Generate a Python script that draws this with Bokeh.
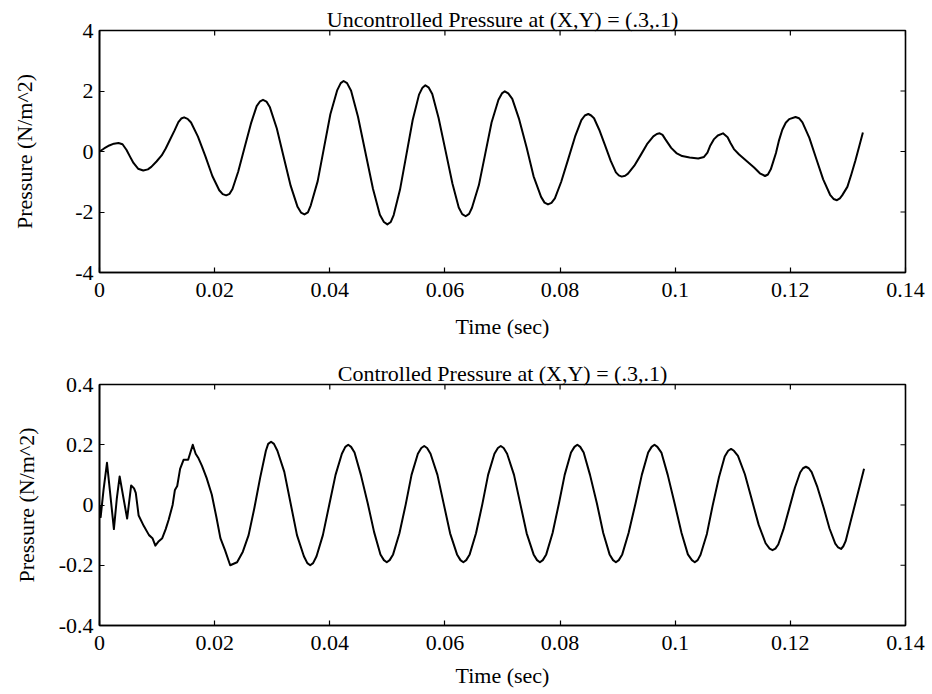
import math
from bokeh.plotting import figure
from bokeh.layouts import column
from bokeh.models import Range1d, FixedTicker
from bokeh.embed import file_html
from bokeh.resources import INLINE

FONT = "Liberation Serif"

# ---------------- data ----------------
x_ticks = [0, 0.02, 0.04, 0.06, 0.08, 0.1, 0.12, 0.14]
x_tick_labels = ["0", "0.02", "0.04", "0.06", "0.08", "0.1", "0.12", "0.14"]

top_y_ticks = [-4, -2, 0, 2, 4]
top_y_tick_labels = ["-4", "-2", "0", "2", "4"]
bot_y_ticks = [-0.4, -0.2, 0, 0.2, 0.4]
bot_y_tick_labels = ["-0.4", "-0.2", "0", "0.2", "0.4"]

top_title = "Uncontrolled Pressure at (X,Y) = (.3,.1)"
bot_title = "Controlled Pressure at (X,Y) = (.3,.1)"
x_label = "Time (sec)"
y_label = "Pressure (N/m^2)"

top_time = [
    0.0000, 0.0008, 0.0017, 0.0025, 0.0033, 0.0040, 0.0047, 0.0053, 0.0059, 0.0067,
    0.0076, 0.0084, 0.0090, 0.0099, 0.0108, 0.0115, 0.0122, 0.0130, 0.0137, 0.0142,
    0.0147, 0.0153, 0.0159, 0.0171, 0.0184, 0.0196, 0.0208, 0.0214, 0.0220, 0.0226,
    0.0231, 0.0241, 0.0252, 0.0263, 0.0273, 0.0279, 0.0284, 0.0290, 0.0296, 0.0308,
    0.0320, 0.0332, 0.0344, 0.0350, 0.0356, 0.0362, 0.0367, 0.0379, 0.0390, 0.0401,
    0.0413, 0.0419, 0.0424, 0.0430, 0.0437, 0.0449, 0.0462, 0.0475, 0.0487, 0.0494,
    0.0500, 0.0506, 0.0511, 0.0522, 0.0533, 0.0544, 0.0555, 0.0561, 0.0566, 0.0572,
    0.0578, 0.0589, 0.0601, 0.0613, 0.0624, 0.0630, 0.0636, 0.0642, 0.0647, 0.0659,
    0.0670, 0.0681, 0.0693, 0.0699, 0.0704, 0.0710, 0.0717, 0.0729, 0.0742, 0.0754,
    0.0767, 0.0773, 0.0779, 0.0785, 0.0791, 0.0802, 0.0814, 0.0826, 0.0837, 0.0843,
    0.0849, 0.0854, 0.0859, 0.0868, 0.0878, 0.0888, 0.0897, 0.0902, 0.0907, 0.0913,
    0.0918, 0.0929, 0.0940, 0.0951, 0.0962, 0.0968, 0.0973, 0.0978, 0.0983, 0.0993,
    0.1002, 0.1012, 0.1025, 0.1040, 0.1050, 0.1056, 0.1061, 0.1067, 0.1074, 0.1083,
    0.1091, 0.1096, 0.1102, 0.1111, 0.1120, 0.1129, 0.1137, 0.1147, 0.1156, 0.1161,
    0.1166, 0.1170, 0.1175, 0.1180, 0.1186, 0.1192, 0.1198, 0.1209, 0.1215, 0.1221,
    0.1233, 0.1245, 0.1257, 0.1269, 0.1275, 0.1281, 0.1286, 0.1290, 0.1299, 0.1306,
    0.1313, 0.1320, 0.1326,
]
top_pressure = [
    0.00, 0.10, 0.20, 0.26, 0.28, 0.24, 0.05, -0.17, -0.38, -0.57,
    -0.63, -0.59, -0.51, -0.33, -0.13, 0.10, 0.37, 0.68, 0.97, 1.09,
    1.13, 1.08, 0.96, 0.49, -0.16, -0.81, -1.28, -1.41, -1.45, -1.40,
    -1.24, -0.66, 0.13, 0.92, 1.50, 1.66, 1.71, 1.65, 1.46, 0.76,
    -0.19, -1.13, -1.83, -2.02, -2.08, -2.01, -1.78, -0.98, 0.13, 1.23,
    2.03, 2.26, 2.33, 2.26, 2.01, 1.15, -0.04, -1.23, -2.09, -2.33,
    -2.41, -2.33, -2.10, -1.26, -0.11, 1.04, 1.88, 2.11, 2.19, 2.11,
    1.90, 1.11, 0.03, -1.06, -1.85, -2.07, -2.14, -2.06, -1.86, -1.11,
    -0.08, 0.96, 1.71, 1.92, 1.99, 1.92, 1.74, 1.06, 0.12, -0.82,
    -1.50, -1.69, -1.75, -1.70, -1.55, -1.00, -0.26, 0.49, 1.04, 1.19,
    1.24, 1.19, 1.10, 0.72, 0.21, -0.31, -0.69, -0.79, -0.83, -0.80,
    -0.73, -0.47, -0.12, 0.24, 0.50, 0.58, 0.60, 0.55, 0.40, 0.12,
    -0.05, -0.15, -0.20, -0.23, -0.18, -0.04, 0.20, 0.40, 0.53, 0.60,
    0.47, 0.28, 0.08, -0.10, -0.25, -0.40, -0.53, -0.72, -0.81, -0.76,
    -0.59, -0.35, -0.05, 0.35, 0.72, 0.95, 1.07, 1.14, 1.10, 0.96,
    0.45, -0.24, -0.92, -1.43, -1.57, -1.61, -1.55, -1.45, -1.17, -0.75,
    -0.30, 0.20, 0.63,
]

bot_time = [
    0.0000, 0.0002, 0.0007, 0.0013, 0.0019, 0.0025, 0.0030, 0.0035,
    0.0041, 0.0048, 0.0055, 0.0060, 0.0063, 0.0068, 0.0077, 0.0086,
    0.0092, 0.0097, 0.0103, 0.0109, 0.0115, 0.0120, 0.0127, 0.0131,
    0.0135, 0.0140, 0.0146, 0.0154, 0.0162, 0.0167, 0.0172, 0.0178,
    0.0186, 0.0195, 0.0203, 0.0210, 0.0218, 0.0227, 0.0239, 0.0249,
    0.0259, 0.0269, 0.0279, 0.0289, 0.0293, 0.0298, 0.0303, 0.0309,
    0.0321, 0.0332, 0.0343, 0.0355, 0.0361, 0.0366, 0.0371, 0.0377,
    0.0388, 0.0399, 0.0410, 0.0421, 0.0427, 0.0432, 0.0437, 0.0443,
    0.0454, 0.0466, 0.0477, 0.0488, 0.0494, 0.0499, 0.0504, 0.0510,
    0.0521, 0.0532, 0.0542, 0.0553, 0.0559, 0.0564, 0.0569, 0.0575,
    0.0587, 0.0598, 0.0609, 0.0621, 0.0627, 0.0632, 0.0637, 0.0643,
    0.0654, 0.0665, 0.0675, 0.0686, 0.0692, 0.0697, 0.0702, 0.0708,
    0.0720, 0.0731, 0.0742, 0.0754, 0.0760, 0.0765, 0.0770, 0.0776,
    0.0787, 0.0798, 0.0808, 0.0819, 0.0825, 0.0830, 0.0835, 0.0841,
    0.0852, 0.0864, 0.0875, 0.0886, 0.0892, 0.0897, 0.0902, 0.0908,
    0.0919, 0.0931, 0.0942, 0.0953, 0.0959, 0.0964, 0.0969, 0.0976,
    0.0987, 0.0999, 0.1011, 0.1022, 0.1029, 0.1034, 0.1039, 0.1044,
    0.1055, 0.1065, 0.1076, 0.1086, 0.1092, 0.1097, 0.1102, 0.1109,
    0.1121, 0.1133, 0.1145, 0.1157, 0.1164, 0.1169, 0.1174, 0.1179,
    0.1188, 0.1198, 0.1208, 0.1217, 0.1222, 0.1227, 0.1232, 0.1237,
    0.1247, 0.1258, 0.1268, 0.1278, 0.1283, 0.1288, 0.1292, 0.1296,
    0.1304, 0.1312, 0.1320, 0.1328,
]
bot_pressure = [
    0.00, -0.04, 0.05, 0.14, 0.03, -0.08, 0.02, 0.095,
    0.03, -0.045, 0.065, 0.055, 0.04, -0.035, -0.07, -0.10,
    -0.11, -0.135, -0.12, -0.11, -0.08, -0.05, 0.00, 0.05,
    0.063, 0.12, 0.15, 0.15, 0.20, 0.17, 0.155, 0.13,
    0.09, 0.035, -0.04, -0.11, -0.15, -0.20, -0.19, -0.155,
    -0.10, -0.01, 0.09, 0.18, 0.203, 0.21, 0.203, 0.18,
    0.11, 0.005, -0.10, -0.17, -0.193, -0.20, -0.193, -0.17,
    -0.10, 0.00, 0.10, 0.17, 0.193, 0.20, 0.193, 0.174,
    0.10, 0.005, -0.09, -0.164, -0.183, -0.19, -0.183, -0.164,
    -0.094, 0.003, 0.10, 0.17, 0.189, 0.196, 0.189, 0.17,
    0.10, 0.003, -0.094, -0.164, -0.183, -0.19, -0.183, -0.164,
    -0.094, 0.003, 0.10, 0.17, 0.189, 0.196, 0.189, 0.17,
    0.10, 0.003, -0.094, -0.164, -0.183, -0.19, -0.183, -0.164,
    -0.093, 0.005, 0.10, 0.174, 0.193, 0.20, 0.193, 0.174,
    0.10, 0.005, -0.093, -0.164, -0.183, -0.19, -0.183, -0.164,
    -0.093, 0.005, 0.10, 0.174, 0.193, 0.20, 0.193, 0.174,
    0.10, 0.005, -0.093, -0.164, -0.183, -0.19, -0.183, -0.165,
    -0.096, -0.002, 0.092, 0.161, 0.180, 0.186, 0.180, 0.163,
    0.102, 0.018, -0.066, -0.127, -0.145, -0.15, -0.145, -0.131,
    -0.081, -0.012, 0.058, 0.108, 0.122, 0.127, 0.122, 0.109,
    0.059, -0.01, -0.078, -0.128, -0.141, -0.146, -0.137, -0.12,
    -0.06, 0.00, 0.06, 0.12,
]


def make_fig(height, bl, br, bt, bb, yticks, ylabels, ylab_standoff,
             xlab_standoff, title, t, pvals):
    x0, x1 = x_ticks[0], x_ticks[-1]
    y0, y1 = yticks[0], yticks[-1]
    p = figure(width=930, height=height,
               x_range=Range1d(x0, x1), y_range=Range1d(y0, y1),
               output_backend="svg", toolbar_location=None,
               min_border_left=bl, min_border_right=br,
               min_border_top=bt, min_border_bottom=bb,
               background_fill_color="white", border_fill_color="white")
    p.grid.visible = False
    p.outline_line_color = "black"
    p.outline_line_width = 1.6

    p.title.text = title
    p.title.align = "center"
    p.title.text_font = FONT
    p.title.text_font_size = "22px"
    p.title.text_font_style = "normal"
    p.title.text_color = "black"
    p.title.standoff = -3

    xa = p.xaxis[0]
    xa.ticker = FixedTicker(ticks=x_ticks)
    xa.major_label_overrides = dict(zip(x_ticks, x_tick_labels))
    xa.axis_label = x_label
    xa.axis_label_standoff = xlab_standoff

    ya = p.yaxis[0]
    ya.ticker = FixedTicker(ticks=yticks)
    ya.major_label_overrides = dict(zip(yticks, ylabels))
    ya.axis_label = y_label
    ya.axis_label_standoff = ylab_standoff

    for ax, std in ((xa, 10), (ya, 6)):
        ax.major_tick_in = 5
        ax.major_tick_out = 0
        ax.minor_tick_line_color = None
        ax.axis_line_color = "black"
        ax.axis_line_width = 1.6
        ax.major_tick_line_width = 1.2
        ax.major_label_standoff = std
        ax.major_label_text_font = FONT
        ax.major_label_text_font_size = "22px"
        ax.major_label_text_color = "black"
        ax.axis_label_text_font = FONT
        ax.axis_label_text_font_size = "22px"
        ax.axis_label_text_font_style = "normal"
        ax.axis_label_text_color = "black"

    # mirrored inward ticks on the top and right frame edges
    p.scatter(x=x_ticks, y=[y1] * len(x_ticks), marker="dash", size=10,
              angle=math.pi / 2, line_color="black", line_width=1.2)
    p.scatter(x=[x1] * len(yticks), y=yticks, marker="dash", size=10,
              angle=0, line_color="black", line_width=1.2)

    p.line(t, pvals, line_color="black", line_width=2, line_join="round")
    return p


p1 = make_fig(346, 96, 25, 30, 74, top_y_ticks, top_y_tick_labels, 35, 14,
              top_title, top_time, top_pressure)
p2 = make_fig(346, 99, 21, 38, 67, bot_y_ticks, bot_y_tick_labels, 17, 10,
              bot_title, bot_time, bot_pressure)

layout = column(p1, p2, spacing=0)
open("out.html", "w").write(file_html(layout, INLINE))
